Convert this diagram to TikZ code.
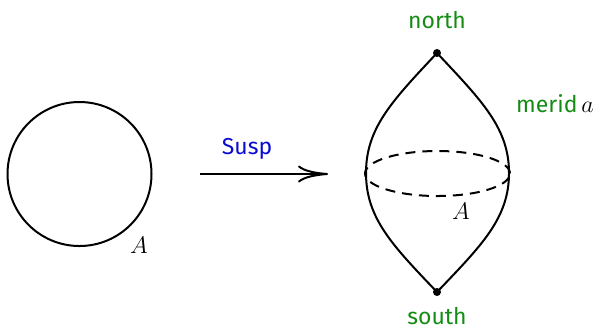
\documentclass[tikz,border=0pt]{standalone}
\usepackage{fontspec}
\setmainfont{Fira Sans}
\usetikzlibrary{arrows.meta,shapes.geometric}
\definecolor{lblgreen}{RGB}{20,140,20}
\definecolor{lblblue}{RGB}{10,10,210}
\begin{document}
\begin{tikzpicture}[x=0.5pt,y=-0.5pt,
  line/.style={line width=1pt},
  lbl/.style={font=\fontsize{11.5}{13}\selectfont, inner sep=0pt},
  mlbl/.style={font=\fontsize{12.5}{14}\selectfont, inner sep=0pt},
  pt/.style={circle, fill=black, inner sep=0pt, minimum size=4pt}]
\useasboundingbox (0,0) rectangle (598,329);
% circle A
\node[line, draw, circle, minimum size=72pt, inner sep=0pt] (circ) at (79.5,174) {};
\node[mlbl] (labA) at (139,245) {$A$};
% arrow
\coordinate (arrS) at (200,174);
\coordinate (arrE) at (328,174);
\draw[line, -{To[length=15pt,width=8.5pt]}] (arrS) -- (arrE);
\node[lbl, text=lblblue] (susp) at (247,149) {Susp};
% suspension
\node[pt] (north) at (437,53) {};
\node[pt] (south) at (437,292) {};
\coordinate (west) at (366,173);
\coordinate (east) at (509,173);
\draw[line] (north.center) .. controls (392,101) and (366,128) .. (west)
  .. controls (366,218) and (392,245) .. (south.center);
\draw[line] (north.center) .. controls (482,101) and (509,128) .. (east)
  .. controls (509,218) and (482,245) .. (south.center);
\node[line, draw, dashed, dash pattern=on 5pt off 3.5pt, ellipse, minimum width=72.5pt, minimum height=22.5pt, inner sep=0pt] (equator) at (437.5,173.5) {};
\node[mlbl] (labA2) at (461,211) {$A$};
\node[lbl, text=lblgreen] (northl) at (437,20) {north};
\node[lbl, text=lblgreen] (southl) at (437,316) {south};
\node[lbl, text=lblgreen] (merid) at (555,104) {merid\,\textcolor{black}{\fontsize{12.5}{14}\selectfont$a$}};
\end{tikzpicture}
\end{document}
